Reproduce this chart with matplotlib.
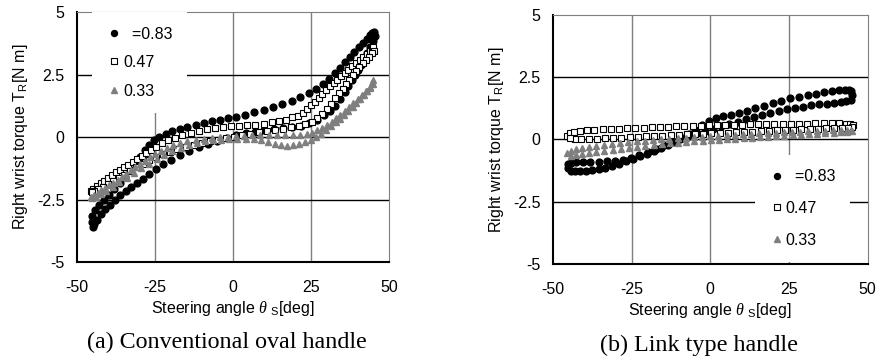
import matplotlib
matplotlib.use("Agg")
import matplotlib.pyplot as plt
from matplotlib.lines import Line2D

plt.rcParams['font.family'] = ['Liberation Sans', 'DejaVu Sans']
plt.rcParams['mathtext.fontset'] = 'custom'
plt.rcParams['mathtext.rm'] = 'Liberation Sans'
plt.rcParams['mathtext.it'] = 'Liberation Serif:italic'
plt.rcParams['axes.unicode_minus'] = False

# ---- data (steering angle deg, torque N m) ----
legend_labels = ['  =0.83', '0.47', '0.33']
x_ticks = [-50, -25, 0, 25, 50]
y_ticks = [-5, -2.5, 0, 2.5, 5]
y_tick_labels = ['-5', '-2.5', '0', '2.5', '5']
captions = ['(a) Conventional oval handle', '(b) Link type handle']

# (a) conventional oval handle, 0.83 (upper branch then lower branch)
a_black_x = [-45.3, -45.1, -44.2, -42.8, -41.2, -39.6, -38.0, -36.3, -34.6, -33.0, -31.4, -29.8, -28.2,
             -26.8, -25.4, -23.6, -21.6, -19.4, -17.0, -14.6, -12.0, -9.4, -6.8, -4.2, -1.6, 1.0, 3.8,
             6.8, 9.8, 12.8, 15.8, 18.8, 21.6, 24.2, 26.6, 28.8, 30.8, 32.6, 34.3, 35.9, 37.4, 38.9,
             40.3, 41.6, 42.8, 43.8, 44.6, 45.1,
             45.4, 44.8, 44.0, 43.0, 42.0, 41.0, 40.0, 39.0, 38.0, 37.0, 35.8, 34.4, 32.8, 31.0, 29.0,
             26.8, 24.4, 21.8, 19.0, 16.0, 13.0, 10.0, 7.0, 4.0, 1.0, -2.0, -5.0, -8.0, -11.0, -14.0,
             -17.0, -19.8, -22.4, -24.8, -27.0, -29.0, -30.9, -32.7, -34.4, -36.1, -37.8, -39.4, -40.9,
             -42.3, -43.5, -44.4, -44.9]
a_black_y = [-3.4, -3.15, -2.9, -2.7, -2.5, -2.3, -2.08, -1.85, -1.6, -1.33, -1.05, -0.78, -0.52,
             -0.3, -0.12, 0.02, 0.14, 0.25, 0.34, 0.42, 0.5, 0.58, 0.65, 0.7, 0.76, 0.82, 0.9,
             1.0, 1.1, 1.22, 1.34, 1.46, 1.6, 1.76, 1.93, 2.12, 2.32, 2.55, 2.78, 3.0, 3.2, 3.4,
             3.6, 3.78, 3.94, 4.08, 4.18, 4.2,
             4.05, 3.85, 3.6, 3.35, 3.1, 2.9, 2.7, 2.5, 2.28, 2.05, 1.8, 1.52, 1.26, 1.05, 0.88,
             0.7, 0.56, 0.46, 0.4, 0.35, 0.32, 0.28, 0.22, 0.15, 0.08, -0.02, -0.14, -0.27, -0.4, -0.55,
             -0.72, -0.9, -1.08, -1.27, -1.46, -1.66, -1.84, -2.0, -2.14, -2.3, -2.5, -2.7, -2.88,
             -3.08, -3.3, -3.48, -3.58]

# (a) 0.47
a_square_x = [-45.6, -44.8, -43.6, -42.4, -41.2, -40.0, -38.8, -37.6, -36.3, -35.0, -33.6, -32.2, -30.8,
              -29.3, -27.8, -26.2, -24.6, -22.8, -20.8, -18.6, -16.2, -13.6, -11.0, -8.4, -5.8, -3.2,
              -0.6, 2.0, 4.6, 7.2, 9.8, 12.4, 14.8, 17.0, 19.0, 20.8, 22.4, 23.8, 25.0, 26.2, 27.4,
              28.6, 29.8, 31.0, 32.2, 33.4, 34.6, 35.8, 37.0, 38.2, 39.4, 40.6, 41.8, 42.9, 43.9, 44.6, 45.0,
              45.1, 44.5, 43.6, 42.6, 41.5, 40.4, 39.3, 38.3, 37.3, 36.2, 35.1, 34.0, 32.8, 31.5, 30.1,
              28.6, 27.0, 25.2, 23.2, 21.0, 18.6, 16.0, 13.4, 10.8, 8.2, 5.6, 3.0, 0.4, -2.2, -4.8,
              -7.4, -10.0, -12.6, -15.2, -17.8, -20.2, -22.6, -24.8, -27.0, -29.0, -31.0, -32.9, -34.8,
              -36.6, -38.4, -40.2, -41.8, -43.2, -44.4, -45.3]
a_square_y = [-2.15, -2.07, -1.95, -1.85, -1.75, -1.65, -1.52, -1.4, -1.3, -1.2, -1.1, -0.98, -0.86,
              -0.74, -0.62, -0.5, -0.38, -0.24, -0.12, -0.02, 0.08, 0.17, 0.25, 0.31, 0.37, 0.41,
              0.44, 0.45, 0.47, 0.5, 0.54, 0.59, 0.64, 0.7, 0.8, 0.86, 0.96, 1.12, 1.27, 1.42, 1.57,
              1.72, 1.88, 2.03, 2.17, 2.3, 2.43, 2.56, 2.7, 2.83, 2.96, 3.08, 3.2, 3.32, 3.44, 3.55, 3.62,
              3.45, 3.35, 3.2, 3.08, 2.95, 2.82, 2.66, 2.48, 2.3, 2.12, 1.94, 1.75, 1.55, 1.33, 1.12,
              0.93, 0.76, 0.62, 0.52, 0.45, 0.39, 0.34, 0.29, 0.24, 0.19, 0.13, 0.08, 0.02, -0.04, -0.1,
              -0.17, -0.24, -0.31, -0.39, -0.48, -0.58, -0.68, -0.8, -0.93, -1.06, -1.2, -1.36, -1.5,
              -1.63, -1.76, -1.88, -1.98, -2.07, -2.15, -2.2]

# (a) 0.33
a_tri_x = [-45.6, -44.6, -43.4, -42.2, -41.0, -39.7, -38.4, -37.0, -35.6, -34.2, -32.8, -31.3, -29.8,
           -28.2, -26.6, -24.9, -23.1, -21.2, -19.2, -17.0, -14.6, -12.0, -9.4, -6.8, -4.2, -1.6, 1.0,
           3.6, 6.2, 8.8, 11.4, 14.0, 16.6, 19.2, 21.6, 23.6, 25.4, 27.0, 28.6, 30.1, 31.6, 33.0, 34.4,
           35.8, 37.2, 38.6, 40.0, 41.4, 42.7, 43.8, 44.6, 45.0,
           44.8, 44.0, 43.0, 41.9, 40.7, 39.5, 38.3, 37.0, 35.7, 34.3, 32.9, 31.4, 29.9, 28.3, 26.7,
           25.0, 23.2, 21.3, 19.3, 17.3, 15.3, 13.3, 11.2, 9.0, 6.6, 4.0, 1.4, -1.2, -3.8, -6.4, -9.0,
           -11.6, -14.2, -16.8, -19.4, -22.0, -24.5, -27.0, -29.4, -31.8, -34.1, -36.4, -38.6, -40.6,
           -42.4, -44.0, -45.2]
a_tri_y = [-2.4, -2.32, -2.22, -2.12, -2.03, -1.93, -1.82, -1.7, -1.58, -1.46, -1.33, -1.2, -1.07,
           -0.94, -0.8, -0.67, -0.54, -0.42, -0.31, -0.22, -0.15, -0.1, -0.06, -0.03, 0.0, 0.02, 0.04,
           0.06, 0.07, 0.08, 0.09, 0.1, 0.1, 0.1, 0.1, 0.12, 0.18, 0.27, 0.38, 0.5, 0.62, 0.75, 0.9,
           1.05, 1.2, 1.36, 1.52, 1.68, 1.86, 2.02, 2.18, 2.3,
           2.12, 1.98, 1.84, 1.68, 1.52, 1.36, 1.22, 1.05, 0.88, 0.74, 0.62, 0.46, 0.3, 0.14, 0.0,
           -0.1, -0.2, -0.28, -0.33, -0.34, -0.32, -0.27, -0.2, -0.13, -0.09, -0.08, -0.08, -0.09,
           -0.11, -0.13, -0.16, -0.22, -0.3, -0.42, -0.55, -0.72, -0.88, -1.06, -1.24, -1.43, -1.62,
           -1.8, -1.98, -2.14, -2.27, -2.38, -2.45]

# (b) link type handle, 0.83
b_black_x = [-45.3, -44.4, -43.0, -41.4, -39.6, -37.6, -35.5, -33.3, -31.1, -28.9, -26.7, -24.5, -22.3,
             -20.1, -17.9, -15.7, -13.5, -11.3, -9.1, -6.9, -4.7, -2.5, -0.3, 1.9, 4.1, 6.5, 9.0, 11.6,
             14.3, 17.0, 19.8, 22.6, 25.4, 28.2, 31.0, 33.7, 36.3, 38.8, 41.0, 42.8, 44.0, 44.8,
             45.2, 44.6, 43.2, 41.4, 39.3, 37.0, 34.6, 32.1, 29.5, 26.9, 24.3, 21.7, 19.1, 16.5, 13.9,
             11.3, 8.7, 6.1, 3.5, 0.9, -1.7, -4.3, -6.9, -9.5, -12.1, -14.7, -17.3, -19.9, -22.5,
             -25.1, -27.7, -30.3, -32.9, -35.5, -38.1, -40.5, -42.6, -44.2, -45.2]
b_black_y = [-1.15, -1.25, -1.28, -1.28, -1.27, -1.24, -1.2, -1.14, -1.07, -0.98, -0.88, -0.78, -0.68,
             -0.57, -0.46, -0.33, -0.22, -0.1, 0.04, 0.2, 0.38, 0.56, 0.74, 0.84, 0.92, 0.99, 1.07, 1.16,
             1.26, 1.36, 1.46, 1.56, 1.65, 1.72, 1.79, 1.84, 1.89, 1.94, 1.98, 2.0, 2.0, 1.95,
             1.78, 1.6, 1.54, 1.5, 1.47, 1.44, 1.41, 1.37, 1.32, 1.27, 1.21, 1.15, 1.07, 0.99, 0.9,
             0.8, 0.7, 0.61, 0.52, 0.42, 0.33, 0.24, 0.14, 0.03, -0.1, -0.24, -0.38, -0.52, -0.64,
             -0.74, -0.81, -0.86, -0.88, -0.89, -0.89, -0.89, -0.9, -0.93, -1.0]

# (b) 0.47
b_square_x = [-45.4, -44.6, -43.2, -41.4, -39.2, -36.8, -34.2, -31.6, -29.0, -26.4, -23.8, -21.2, -18.6,
              -16.0, -13.4, -10.8, -8.2, -5.6, -3.0, -0.4, 2.2, 4.8, 7.4, 10.0, 12.6, 15.2, 17.8, 20.4,
              23.0, 25.6, 28.2, 30.8, 33.4, 36.0, 38.6, 41.0, 43.0, 44.5, 45.3,
              45.0, 43.8, 41.8, 39.4, 36.8, 34.2, 31.6, 29.0, 26.4, 23.8, 21.2, 18.6, 16.0, 13.4, 10.8,
              8.2, 5.6, 3.0, 0.4, -2.2, -4.8, -7.4, -10.0, -12.6, -15.2, -17.8, -20.4, -23.0, -25.6,
              -28.2, -30.8, -33.4, -36.0, -38.6, -41.0, -43.0, -44.6]
b_square_y = [0.12, 0.24, 0.29, 0.33, 0.36, 0.38, 0.4, 0.42, 0.43, 0.45, 0.46, 0.47, 0.48,
              0.5, 0.51, 0.52, 0.53, 0.54, 0.55, 0.56, 0.57, 0.58, 0.58, 0.59, 0.6, 0.61, 0.61, 0.62,
              0.62, 0.63, 0.63, 0.63, 0.64, 0.64, 0.64, 0.64, 0.63, 0.61, 0.56,
              0.5, 0.47, 0.46, 0.45, 0.44, 0.43, 0.42, 0.4, 0.39, 0.37, 0.36, 0.34, 0.33, 0.31, 0.3,
              0.28, 0.27, 0.26, 0.25, 0.23, 0.22, 0.2, 0.19, 0.17, 0.15, 0.13, 0.12, 0.1, 0.09,
              0.07, 0.06, 0.04, 0.03, 0.02, 0.02, 0.03, 0.06]

# (b) 0.33
b_tri_x = [-45.4, -44.4, -42.8, -40.8, -38.6, -36.2, -33.7, -31.2, -28.6, -26.0, -23.4, -20.8, -18.2,
           -15.6, -13.0, -10.4, -7.8, -5.2, -2.6, 0.0, 2.6, 5.2, 7.8, 10.4, 13.0, 15.6, 18.2, 20.8,
           23.4, 26.0, 28.6, 31.2, 33.8, 36.4, 39.0, 41.4, 43.4, 44.8,
           45.0, 43.6, 41.6, 39.2, 36.6, 34.0, 31.4, 28.8, 26.2, 23.6, 21.0, 18.4, 15.8, 13.2, 10.6,
           8.0, 5.4, 2.8, 0.2, -2.4, -5.0, -7.6, -10.2, -12.8, -15.4, -18.0, -20.6, -23.2, -25.8,
           -28.4, -31.0, -33.6, -36.2, -38.6, -40.8, -42.8, -44.4]
b_tri_y = [-0.55, -0.45, -0.4, -0.35, -0.3, -0.26, -0.22, -0.18, -0.14, -0.11, -0.08, -0.05, -0.02,
           0.0, 0.03, 0.05, 0.07, 0.09, 0.11, 0.13, 0.15, 0.17, 0.19, 0.21, 0.22, 0.24, 0.25, 0.27,
           0.28, 0.3, 0.31, 0.32, 0.34, 0.35, 0.36, 0.37, 0.38, 0.38,
           0.32, 0.3, 0.28, 0.26, 0.24, 0.22, 0.2, 0.18, 0.16, 0.14, 0.12, 0.1, 0.08, 0.06, 0.04,
           0.02, 0.0, -0.02, -0.04, -0.06, -0.08, -0.1, -0.13, -0.16, -0.19, -0.23, -0.27, -0.31, -0.35,
           -0.39, -0.43, -0.48, -0.52, -0.56, -0.6, -0.64, -0.66]

GRAY = '#7f7f7f'
FS = 11.5
DOT_MS, SQ_MS, TRI_MS = 4.9, 4.4, 5.0


def style_axes(ax):
    ax.set_xlim(-50, 50)
    ax.set_ylim(-5, 5)
    ax.set_xticks(x_ticks)
    ax.set_yticks(y_ticks)
    ax.set_yticklabels(y_tick_labels)
    for v in x_ticks[1:-1]:
        ax.axvline(v, color=GRAY, lw=1.0, zorder=0)
    for v in y_ticks[1:-1]:
        ax.axhline(v, color='black', lw=1.0, zorder=0)
    ax.spines['left'].set_linewidth(1.5)
    ax.spines['bottom'].set_linewidth(1.5)
    ax.spines['top'].set_color(GRAY)
    ax.spines['right'].set_color(GRAY)
    ax.tick_params(axis='both', length=0, labelsize=FS)
    ax.tick_params(axis='x', pad=13)
    ax.tick_params(axis='y', pad=9)
    ax.set_xlabel(r'Steering angle $\theta\ _{\rm S}$[deg]', fontsize=FS, labelpad=3)
    ax.set_ylabel(r'Right wrist torque T$_{\rm R}$[N m]', fontsize=FS, labelpad=5)


def draw_loops(ax, bx, by, sx, sy, tx, ty):
    ax.plot(bx, by, 'o', ls='none', ms=DOT_MS, color='black', zorder=2)
    ax.plot(sx, sy, 's', ls='none', ms=SQ_MS, mfc='white', mec='black', mew=0.8, zorder=3)
    ax.plot(tx, ty, '^', ls='none', ms=TRI_MS, color=GRAY, zorder=4)


def add_legend(ax, anchor, spacing):
    handles = [
        Line2D([], [], marker='o', ls='none', ms=4.3, color='black'),
        Line2D([], [], marker='s', ls='none', ms=3.9, mfc='white', mec='black', mew=0.8),
        Line2D([], [], marker='^', ls='none', ms=4.3, color=GRAY),
    ]
    leg = ax.legend(handles, legend_labels, loc='upper left', bbox_to_anchor=anchor,
                    borderaxespad=0, frameon=True, fancybox=False, framealpha=1,
                    edgecolor='none', facecolor='white', fontsize=FS,
                    handlelength=1.0, handletextpad=0.05, labelspacing=spacing, borderpad=0.9)
    leg.set_zorder(5)


fig = plt.figure(figsize=(8.79, 3.57), dpi=100)
ax1 = fig.add_axes([0.0876, 0.266, 0.355, 0.700])
ax2 = fig.add_axes([0.629, 0.2605, 0.358, 0.698])

style_axes(ax1)
draw_loops(ax1, a_black_x, a_black_y, a_square_x, a_square_y, a_tri_x, a_tri_y)
add_legend(ax1, (0.048, 1.0), 0.85)

style_axes(ax2)
draw_loops(ax2, b_black_x, b_black_y, b_square_x, b_square_y, b_tri_x, b_tri_y)
add_legend(ax2, (0.641, 0.438), 1.05)

fig.text(0.258, 1 - 342 / 357, captions[0], family='Liberation Serif', fontsize=17.3,
         ha='center', va='center')
fig.text(0.795, 1 - 345 / 357, captions[1], family='Liberation Serif', fontsize=17.4,
         ha='center', va='center')

fig.savefig('out.png', dpi=100)
